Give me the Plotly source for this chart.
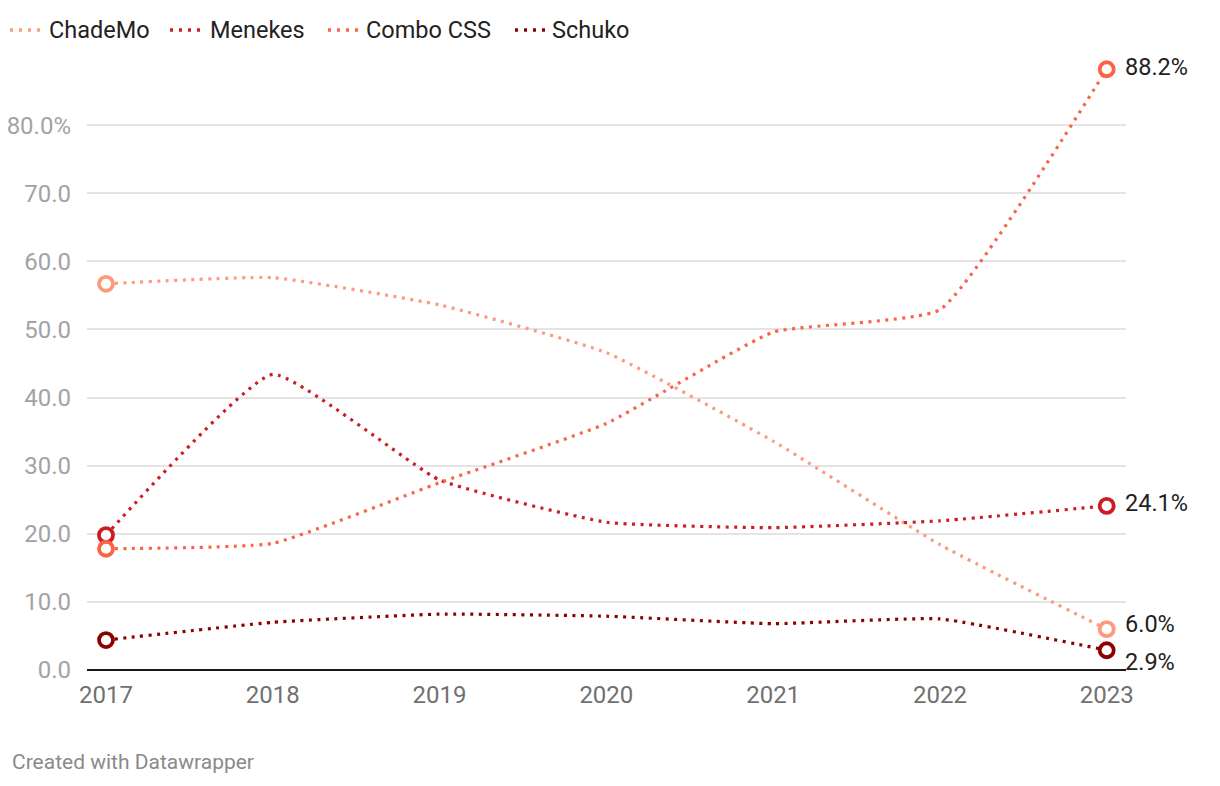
import plotly.graph_objects as go

years = [2017, 2018, 2019, 2020, 2021, 2022, 2023]
chademo = [56.7, 57.6, 53.6, 46.6, 33.6, 18.4, 6.0]
menekes = [19.8, 43.4, 27.9, 21.7, 20.9, 21.9, 24.1]
combo_css = [17.8, 18.6, 27.5, 36.2, 49.6, 52.9, 88.2]
schuko = [4.4, 7.0, 8.2, 7.9, 6.8, 7.5, 2.9]

series_names = ["ChadeMo", "Menekes", "Combo CSS", "Schuko"]
series_values = [chademo, menekes, combo_css, schuko]
colors = ["#fd9a7c", "#cb1d22", "#fb6349", "#8b0000"]
label_shift = [-5, -3, -2, 12]

y_tickvals = [0, 10, 20, 30, 40, 50, 60, 70, 80]
y_ticktext = ["0.0", "10.0", "20.0", "30.0", "40.0", "50.0", "60.0", "70.0", "80.0%"]

FONT = "Roboto, 'Noto Sans', sans-serif"

# layout geometry (figure px)
ML, MT, PW, PH = 79, 49, 1039, 613


def px_x(fx):
    return (fx - ML) / PW


def px_y(fy):
    return 1 + (MT - fy) / PH


fig = go.Figure()
for name, vals, col in zip(series_names, series_values, colors):
    fig.add_trace(go.Scatter(
        x=years, y=vals, name=name, mode="lines",
        line=dict(color=col, width=3.2, dash="3px,5.5px", shape="spline", smoothing=0.4),
        hoverinfo="skip", showlegend=False,
    ))
for name, vals, col in zip(series_names, series_values, colors):
    fig.add_trace(go.Scatter(
        x=[years[0], years[-1]], y=[vals[0], vals[-1]], name=name, mode="markers",
        marker=dict(size=14, color="white", opacity=1, line=dict(color=col, width=3.8)),
        hoverinfo="skip", showlegend=False,
    ))

annotations = []
shapes = []
for vals, shift in zip(series_values, label_shift):
    annotations.append(dict(
        x=years[-1], y=vals[-1], xref="x", yref="y", text=f"{vals[-1]:.1f}%",
        showarrow=False, xanchor="left", yanchor="middle", xshift=16, yshift=-shift,
        font=dict(family=FONT, size=23.5, color="#222222"),
    ))

# legend row drawn manually
legend_sym_x = [2, 162, 320, 507]
legend_txt_x = [41, 202, 358, 544]
legend_y = 22
for name, col, sx, tx in zip(series_names, colors, legend_sym_x, legend_txt_x):
    shapes.append(dict(
        type="line", xref="paper", yref="paper",
        x0=px_x(sx), x1=px_x(sx + 33), y0=px_y(legend_y), y1=px_y(legend_y),
        line=dict(color=col, width=3.6, dash="3px,6px"),
    ))
    annotations.append(dict(
        x=px_x(tx), y=px_y(legend_y), xref="paper", yref="paper", text=name,
        showarrow=False, xanchor="left", yanchor="middle", xshift=-2,
        font=dict(family=FONT, size=23.5, color="#222222"),
    ))

annotations.append(dict(
    x=px_x(4), y=px_y(754), xref="paper", yref="paper",
    text="Created with Datawrapper", showarrow=False, xanchor="left", yanchor="middle",
    xshift=-2, font=dict(family=FONT, size=21, color="#8a8a8a"),
))

fig.update_layout(
    width=1220, height=786,
    margin=dict(l=ML, r=1220 - ML - PW, t=MT, b=786 - MT - PH, pad=0),
    paper_bgcolor="white", plot_bgcolor="white",
    font=dict(family=FONT, size=22, color="#222222"),
    showlegend=False,
    xaxis=dict(
        range=[2017 - 19 / 166.8, 2023 + 19.3 / 166.8],
        tickvals=years, ticktext=[str(y) for y in years],
        showgrid=False, zeroline=False, showline=False,
        tickfont=dict(family=FONT, size=24, color="#707070"),
        ticklabelstandoff=8, fixedrange=True, automargin=False,
    ),
    yaxis=dict(
        range=[0, 90], tickvals=y_tickvals, ticktext=y_ticktext,
        showgrid=True, gridcolor="#e4e4e4", gridwidth=1.6,
        zeroline=True, zerolinecolor="#1a1a1a", zerolinewidth=2,
        showline=False, tickfont=dict(family=FONT, size=24, color="#a3a3a3"),
        ticklabelstandoff=15, fixedrange=True, automargin=False,
    ),
    annotations=annotations,
    shapes=shapes,
)

fig.write_html("out.html")
